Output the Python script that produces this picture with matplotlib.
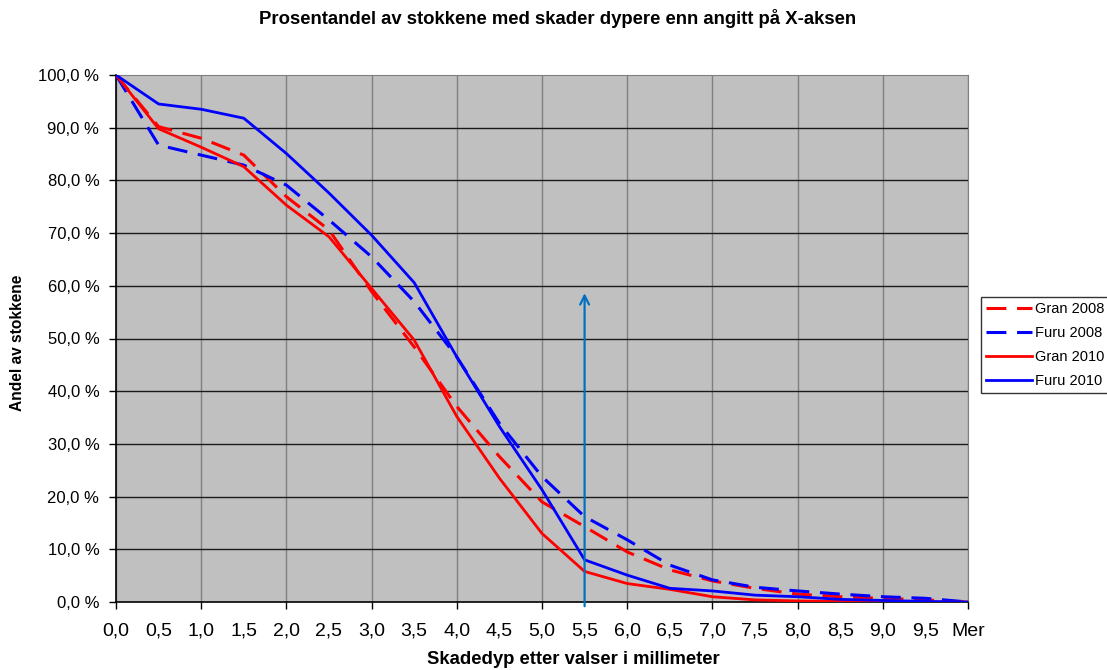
import matplotlib
matplotlib.use("Agg")
import matplotlib.pyplot as plt
from matplotlib.ticker import FixedLocator

plt.rcParams['font.family'] = ['Liberation Sans', 'DejaVu Sans']

categories = ["0,0", "0,5", "1,0", "1,5", "2,0", "2,5", "3,0", "3,5", "4,0", "4,5",
              "5,0", "5,5", "6,0", "6,5", "7,0", "7,5", "8,0", "8,5", "9,0", "9,5", "Mer"]

gran_2008 = [100, 90.2, 88.0, 84.8, 76.9, 70.6, 58.9, 48.4, 37.1, 27.6,
             19.0, 14.3, 9.5, 6.1, 4.0, 2.6, 1.5, 1.0, 0.7, 0.4, 0.0]
furu_2008 = [100, 86.7, 84.8, 82.9, 79.1, 72.5, 65.5, 57.0, 46.5, 33.9,
             23.8, 16.2, 11.8, 7.0, 4.2, 2.8, 2.1, 1.5, 1.0, 0.7, 0.0]
gran_2010 = [100, 89.8, 86.3, 82.6, 75.3, 69.3, 59.5, 49.7, 35.2, 23.5,
             13.0, 5.8, 3.5, 2.4, 1.0, 0.4, 0.2, 0.1, 0.0, 0.0, 0.0]
furu_2010 = [100, 94.5, 93.5, 91.8, 85.1, 77.6, 69.6, 60.6, 46.5, 33.3,
             21.3, 8.0, 5.1, 2.6, 2.1, 1.3, 1.0, 0.5, 0.3, 0.1, 0.0]

arrow_cat = 11      # 5,5 mm
arrow_top = 58.6

x = list(range(len(categories)))

fig = plt.figure(figsize=(11.07, 6.70), dpi=100)
ax = fig.add_axes([116/1107, 1 - 602/670, (968 - 116)/1107, (602 - 75)/670])
ax.set_facecolor("#C0C0C0")

dash = (6.5, 3.5)
ax.plot(x, gran_2008, color="red", lw=2.2, dashes=dash, label="Gran 2008", zorder=3)
ax.plot(x, furu_2008, color="blue", lw=2.2, dashes=dash, label="Furu 2008", zorder=3)
ax.plot(x, gran_2010, color="red", lw=2.0, label="Gran 2010", zorder=3)
ax.plot(x, furu_2010, color="blue", lw=2.0, label="Furu 2010", zorder=3)

ax.annotate("", xy=(arrow_cat, arrow_top), xytext=(arrow_cat, -0.8),
            arrowprops=dict(arrowstyle="->", color="#0070C0", lw=1.6,
                            mutation_scale=16, shrinkA=0, shrinkB=0),
            annotation_clip=False, zorder=4)

ax.set_xlim(0, len(categories) - 1)
ax.set_ylim(0, 100)

# labels on every category, ticks + vertical grid on every second one
ax.xaxis.remove_overlapping_locs = False
ax.yaxis.remove_overlapping_locs = False

ax.set_xticks(x)
ax.set_xticklabels(categories, fontsize=14)
ax.tick_params(axis="x", which="major", length=0, pad=15)
ax.xaxis.set_minor_locator(FixedLocator(x[::2]))
ax.tick_params(axis="x", which="minor", length=5, width=1, color="black")
ax.grid(axis="x", which="minor", color="#808080", linewidth=1)

yt = list(range(0, 101, 10))
ax.set_yticks(yt)
ax.set_yticklabels([f"{v},0 %" for v in yt], fontsize=12)
ax.tick_params(axis="y", which="major", length=5, width=1, pad=7)
ax.yaxis.set_minor_locator(FixedLocator(yt[1:-1]))
ax.tick_params(axis="y", which="minor", length=0)
ax.grid(axis="y", which="minor", color="#1a1a1a", linewidth=1)
ax.set_axisbelow(True)

for side in ["top", "right"]:
    ax.spines[side].set_color("#808080")
for side in ["left", "bottom"]:
    ax.spines[side].set_color("black")
    ax.spines[side].set_linewidth(1.2)

fig.text(558/1107, 1 - 18/670, "Prosentandel av stokkene med skader dypere enn angitt på X-aksen",
         ha="center", va="center", fontsize=13.3, fontweight="bold")
fig.text(573/1107, 1 - 660/670, "Skadedyp etter valser i millimeter",
         ha="center", va="center", fontsize=13.3, fontweight="bold")
fig.text(18/1107, 1 - 343/670, "Andel av stokkene", rotation=90,
         ha="center", va="center", fontsize=11.2, fontweight="bold")

leg = fig.legend(loc="upper left", bbox_to_anchor=(974/1107, 1 - 290/670),
                 fontsize=10.5, frameon=True, fancybox=False, handlelength=3.15,
                 labelspacing=0.7, borderpad=0.3, handletextpad=0.25)
leg.get_frame().set_edgecolor("black")
leg.get_frame().set_linewidth(1)

fig.savefig("out.png", dpi=100)
